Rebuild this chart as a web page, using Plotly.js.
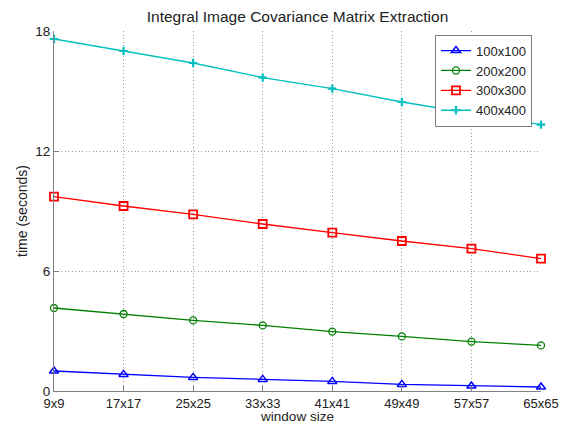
<!DOCTYPE html>
<html>
<head>
<meta charset="utf-8">
<script src="https://cdn.plot.ly/plotly-3.0.1.min.js"></script>
<style>html,body{margin:0;padding:0;background:#fff;}#chart{width:571px;height:424px;}</style>
</head>
<body>
<div id="chart"></div>
<script>
const windowSizes = ["9x9","17x17","25x25","33x33","41x41","49x49","57x57","65x65"];
const seriesNames = ["100x100","200x200","300x300","400x400"];
const t100 = [1.00, 0.83, 0.68, 0.58, 0.48, 0.33, 0.25, 0.20];
const t200 = [4.15, 3.85, 3.53, 3.28, 2.97, 2.73, 2.47, 2.28];
const t300 = [9.72, 9.25, 8.83, 8.35, 7.92, 7.50, 7.12, 6.62];
const t400 = [17.60, 17.00, 16.40, 15.67, 15.12, 14.45, 13.88, 13.32];
const yTicks = [0, 6, 12, 18];

const seriesVals = [t100, t200, t300, t400];
const colors = ["#0000ff", "#008000", "#ff0000", "#00bfbf"];
const symbols = ["triangle-up-open", "circle-open", "square-open", "cross-thin-open"];
const sizes = [8, 7, 8, 6];
const mlw = [1.5, 1.3, 1.8, 2.2];

const traces = seriesVals.map((v, i) => ({
  x: windowSizes,
  y: v,
  name: seriesNames[i],
  type: "scatter",
  mode: "lines+markers",
  cliponaxis: false,
  line: {color: colors[i], width: 1.3},
  marker: {symbol: symbols[i], size: sizes[i], color: colors[i], line: {color: colors[i], width: mlw[i]}}
}));

const layout = {
  width: 571, height: 424,
  margin: {l: 54, r: 30, t: 31, b: 33},
  paper_bgcolor: "#ffffff",
  plot_bgcolor: "#ffffff",
  font: {family: "Liberation Sans, Arial, sans-serif", size: 13, color: "#222"},
  title: {text: "Integral Image Covariance Matrix Extraction", x: 0.5, xref: "paper", y: 0.96, yref: "container", yanchor: "middle", font: {size: 15.5, color: "#222"}},
  xaxis: {
    type: "category", range: [0, 7],
    showline: true, linecolor: "#808080", linewidth: 1, mirror: false,
    showgrid: true, gridcolor: "#9a9a9a", griddash: "1px,2.5px", gridwidth: 1,
    ticks: "inside", ticklen: 5, tickcolor: "#808080",
    tickfont: {size: 13, color: "#222"},
    zeroline: false,
    title: {text: "window size", standoff: 6, font: {size: 13.5, color: "#222"}}
  },
  yaxis: {
    range: [0, 18], tickvals: yTicks, ticktext: yTicks.map(String),
    showline: true, linecolor: "#808080", linewidth: 1,
    showgrid: true, gridcolor: "#9a9a9a", griddash: "1px,2.5px", gridwidth: 1,
    ticks: "inside", ticklen: 5, tickcolor: "#808080",
    tickfont: {size: 13.5, color: "#222"},
    zeroline: false,
    title: {text: "time (seconds)", standoff: 4, font: {size: 14, color: "#222"}}
  },
  legend: {
    x: 0.9815, xanchor: "right", y: 0.99, yanchor: "top",
    bgcolor: "#ffffff", bordercolor: "#808080", borderwidth: 1,
    font: {size: 13, color: "#222"},
    tracegroupgap: 0, itemwidth: 30
  },
  showlegend: true
};

Plotly.newPlot("chart", traces, layout, {displayModeBar: false, staticPlot: true});
</script>
</body>
</html>
